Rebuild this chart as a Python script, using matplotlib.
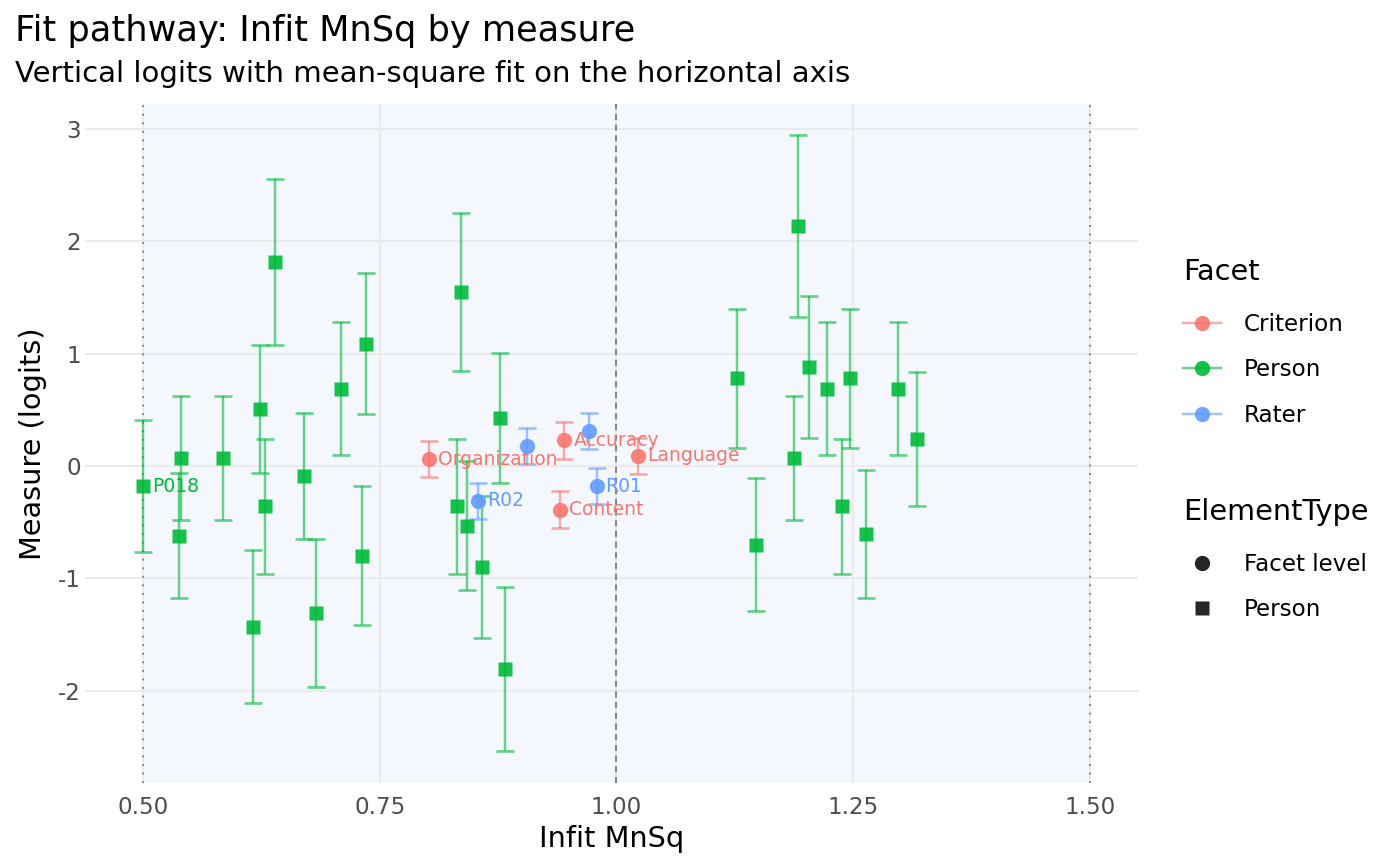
import numpy as np
import matplotlib.pyplot as plt
import matplotlib.colors as mcolors
from matplotlib.lines import Line2D

plt.rcParams["font.family"] = "DejaVu Sans"
plt.rcParams["axes.unicode_minus"] = False

# ── data ─────────────────────────────────────────────────────────────────────
person_infit = [0.500, 0.540, 0.538, 0.585, 0.616, 0.624, 0.629, 0.639, 0.670, 0.683,
                0.709, 0.731, 0.736, 0.836, 0.832, 0.842, 0.858, 0.877, 0.882, 1.127,
                1.147, 1.187, 1.192, 1.203, 1.222, 1.238, 1.247, 1.263, 1.297, 1.317]
person_measure = [-0.18, 0.07, -0.62, 0.07, -1.43, 0.51, -0.36, 1.82, -0.09, -1.31,
                  0.69, -0.80, 1.09, 1.55, -0.36, -0.53, -0.90, 0.43, -1.81, 0.78,
                  -0.70, 0.07, 2.14, 0.88, 0.69, -0.36, 0.78, -0.61, 0.69, 0.24]
person_se = [0.59, 0.55, 0.56, 0.55, 0.68, 0.57, 0.60, 0.74, 0.56, 0.66,
             0.59, 0.62, 0.63, 0.70, 0.60, 0.57, 0.63, 0.58, 0.73, 0.62,
             0.59, 0.55, 0.81, 0.63, 0.59, 0.60, 0.62, 0.57, 0.59, 0.60]
person_label = ["P018"] + [""] * 29

criterion_label = ["Organization", "Accuracy", "Content", "Language"]
criterion_infit = [0.802, 0.945, 0.940, 1.023]
criterion_measure = [0.06, 0.23, -0.39, 0.09]
criterion_se = [0.16, 0.165, 0.165, 0.16]

rater_label = ["R02", "", "", "R01"]
rater_infit = [0.854, 0.906, 0.971, 0.979]
rater_measure = [-0.31, 0.18, 0.31, -0.18]
rater_se = [0.16, 0.16, 0.163, 0.16]

x_ticks = [0.50, 0.75, 1.00, 1.25, 1.50]
y_ticks = [-2, -1, 0, 1, 2, 3]

# ── style ────────────────────────────────────────────────────────────────────
COLORS = {"Criterion": "#F8766D", "Person": "#00BA38", "Rater": "#619CFF"}
MARKER = {"Criterion": "o", "Person": "s", "Rater": "o"}
MS = {"o": 11.0, "s": 10.0}
TEXT_GREY = "#4D4D4D"
LEG_FS = 16.6


def rgba(c, a):
    return mcolors.to_rgba(c, a)


fig = plt.figure(figsize=(14, 8.66), dpi=100)
ax = fig.add_axes([85 / 1400, 83 / 866, 1053 / 1400, 679 / 866])

ax.axvspan(0.5, 1.5, color="#F4F7FE", zorder=0, lw=0)
ax.set_axisbelow(True)
ax.grid(color="#EBEBEB", linewidth=1.45)
for v, ls, col in [(0.5, (0, (1.2, 4.4)), "#666666"),
                   (1.0, (0, (4, 3)), "#666666"),
                   (1.5, (0, (1.2, 4.4)), "#666666")]:
    ax.axvline(v, color=col, lw=1.1, ls=ls, zorder=1)

groups = [
    ("Criterion", criterion_infit, criterion_measure, criterion_se, criterion_label),
    ("Person", person_infit, person_measure, person_se, person_label),
    ("Rater", rater_infit, rater_measure, rater_se, rater_label),
]

for name, xs, ys, se, labs in groups:
    c = COLORS[name]
    m = MARKER[name]
    ax.errorbar(xs, ys, yerr=se, fmt="none", ecolor=rgba(c, 0.6),
                elinewidth=1.75, capsize=6.5, capthick=1.9, zorder=2)
    ax.plot(xs, ys, ls="none", marker=m, ms=MS[m], mfc=rgba(c, 0.9),
            mec="none", zorder=4)
    for xv, yv, lab in zip(xs, ys, labs):
        if lab:
            ax.annotate(lab, (xv, yv), xytext=(6.5, 0), textcoords="offset points",
                        ha="left", va="center", fontsize=13.5, color=c, zorder=3)

ax.set_xlim(0.4388, 1.5507)
ax.set_ylim(-2.823, 3.2235)
ax.set_xticks(x_ticks)
ax.set_xticklabels([f"{t:.2f}" for t in x_ticks])
ax.set_yticks(y_ticks)
ax.set_yticklabels([str(t) for t in y_ticks])
ax.tick_params(length=0, labelsize=16.6, colors=TEXT_GREY)
ax.tick_params(axis="x", pad=9)
ax.tick_params(axis="y", pad=3)
for s in ax.spines.values():
    s.set_visible(False)

ax.set_xlabel("Infit MnSq", fontsize=20.7, labelpad=4.5)
ax.set_ylabel("Measure (logits)", fontsize=20.7, labelpad=8)

fig.text(15 / 1400, 1 - 41 / 866, "Fit pathway: Infit MnSq by measure",
         fontsize=25.3, ha="left", va="baseline")
fig.text(15 / 1400, 1 - 82 / 866, "Vertical logits with mean-square fit on the horizontal axis",
         fontsize=21.0, ha="left", va="baseline")


# ── legends ──────────────────────────────────────────────────────────────────
def add_legend(handles, labels, title, top_px):
    leg = fig.legend(handles, labels, title=title,
                     loc="upper left", bbox_to_anchor=(1183 / 1400, 1 - top_px / 866),
                     frameon=False, fontsize=LEG_FS, title_fontsize=20.7,
                     alignment="left", handlelength=1.65, handletextpad=1.0,
                     labelspacing=0.97, borderpad=0, borderaxespad=0)
    # extra room between the legend title and its first entry
    leg._legend_box.sep = 1.17 * LEG_FS
    return leg


facet_handles = [
    Line2D([0], [0], color=rgba(COLORS[k], 0.6), lw=1.75, marker="o", ms=MS["o"],
           mfc=rgba(COLORS[k], 0.9), mec="none")
    for k in ["Criterion", "Person", "Rater"]
]
add_legend(facet_handles, ["Criterion", "Person", "Rater"], "Facet", 258)

type_handles = [
    Line2D([0], [0], ls="none", marker="o", ms=MS["o"], mfc="#262626", mec="none"),
    Line2D([0], [0], ls="none", marker="s", ms=MS["s"], mfc="#262626", mec="none"),
]
add_legend(type_handles, ["Facet level", "Person"], "ElementType", 498)

fig.savefig("out.png", dpi=100)
